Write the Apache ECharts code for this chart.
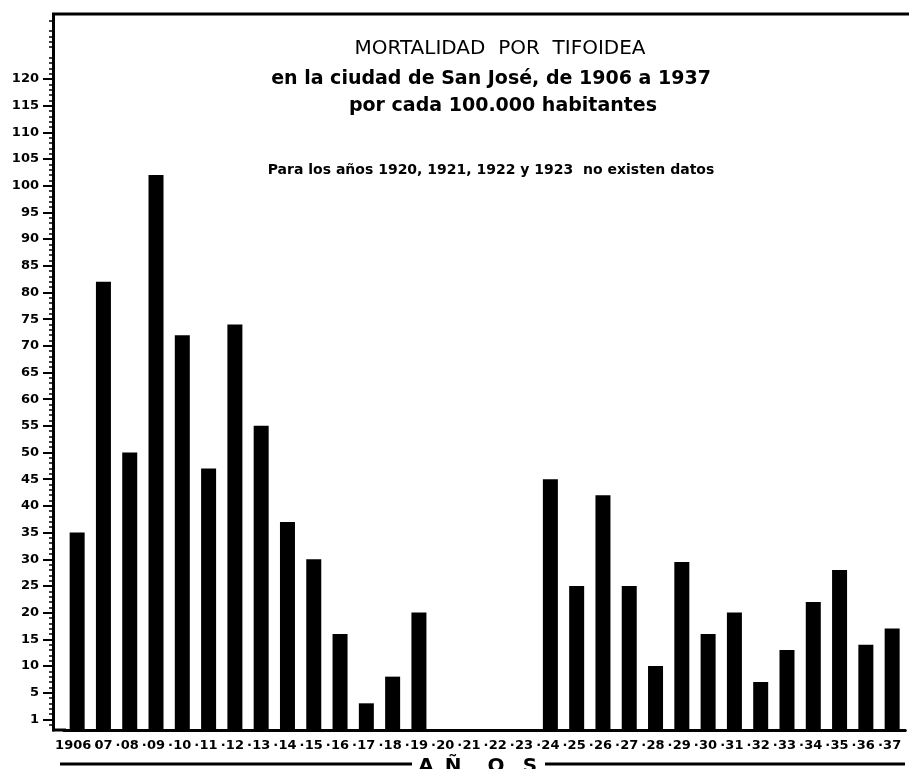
<!DOCTYPE html>
<html lang="es">
<head>
<meta charset="utf-8">
<title>Mortalidad por tifoidea</title>
<script src="https://cdn.jsdelivr.net/npm/echarts@6/dist/echarts.min.js"></script>
</head>
<body style="margin:0;background:#fff">
<div id="main" style="width:909px;height:769px"></div>
<script type="text/javascript">
// years shown on the x axis (1906 in full, the rest as two digits)
var years = ['1906', '07', '08', '09', '10', '11', '12', '13', '14', '15', '16', '17', '18', '19',
    '20', '21', '22', '23', '24', '25', '26', '27', '28', '29', '30', '31', '32', '33', '34', '35', '36', '37'];
// deaths per 100 000 inhabitants, no data for 1920-1923
var deaths = [35, 82, 50, 102, 72, 47, 74, 55, 37, 30, 16, 3, 8, 20,
    null, null, null, null, 45, 25, 42, 25, 10, 29.5, 16, 20, 7, 13, 22, 28, 14, 17];
// y axis: the bottom tick is labelled "1"
var yTicks = [0, 5, 10, 15, 20, 25, 30, 35, 40, 45, 50, 55, 60, 65, 70, 75, 80, 85, 90, 95, 100, 105, 110, 115, 120];
var yTickLabels = ['1', '5', '10', '15', '20', '25', '30', '35', '40', '45', '50', '55', '60', '65', '70', '75',
    '80', '85', '90', '95', '100', '105', '110', '115', '120'];

var FONT = '"DejaVu Sans", sans-serif';
var myChart = echarts.init(document.getElementById('main'));

myChart.setOption({
    backgroundColor: '#fff',
    animation: false,
    grid: { left: 64, right: -5, top: 15, bottom: 39 },
    xAxis: {
        type: 'category',
        data: years,
        axisLine: { onZero: false, lineStyle: { color: '#000', width: 3 } },
        axisTick: { show: false },
        axisLabel: {
            interval: 0,
            margin: 9,
            color: '#000',
            fontSize: 13,
            fontWeight: 'bold',
            fontFamily: FONT,
            formatter: function (v, i) {
                // a dot between consecutive years, like the hand-drawn axis
                if (i === 0) return v + '{d|·}';
                var last = i === years.length - 1;
                return '{h|·}' + v + (last ? '{h|·}' : '{d|·}');
            },
            rich: {
                d: { color: '#000', fontSize: 13, fontWeight: 'bold', fontFamily: FONT, padding: [0, 0, 0, 3] },
                h: { color: 'rgba(0,0,0,0)', fontSize: 13, fontWeight: 'bold', fontFamily: FONT, padding: [0, 3, 0, 0] }
            }
        }
    },
    yAxis: {
        type: 'value',
        min: -2,
        max: 132,
        splitNumber: 27,
        startValue: -2,
        offset: 11,
        splitLine: { show: false },
        axisLine: { show: true, lineStyle: { color: '#000', width: 3 } },
        axisTick: { show: true, length: 10, customValues: yTicks, lineStyle: { color: '#000', width: 2 } },
        minorTick: { show: true, splitNumber: 5, length: 4, lineStyle: { color: '#000', width: 1.5 } },
        axisLabel: {
            customValues: yTicks,
            margin: 14,
            color: '#000',
            fontSize: 13,
            fontWeight: 'bold',
            fontFamily: FONT,
            formatter: function (v) {
                var k = yTicks.indexOf(v);
                return k < 0 ? '' : yTickLabels[k];
            }
        }
    },
    series: [{
        type: 'bar',
        data: deaths,
        barWidth: 15,
        itemStyle: { color: '#000' }
    }],
    graphic: [
        { type: 'line', shape: { x1: 52, y1: 14, x2: 909, y2: 14 }, style: { stroke: '#000', lineWidth: 3 } },
        { type: 'line', shape: { x1: 52, y1: 730, x2: 66, y2: 730 }, style: { stroke: '#000', lineWidth: 3 } },
        { type: 'line', shape: { x1: 60, y1: 764, x2: 412, y2: 764 }, style: { stroke: '#000', lineWidth: 3 } },
        { type: 'line', shape: { x1: 545, y1: 764, x2: 905, y2: 764 }, style: { stroke: '#000', lineWidth: 3 } },
        { type: 'text', x: 500, y: 49, style: { text: 'MORTALIDAD  POR  TIFOIDEA', align: 'center', verticalAlign: 'middle', fill: '#000', font: '20px ' + FONT } },
        { type: 'text', x: 491, y: 79, style: { text: 'en la ciudad de San José, de 1906 a 1937', align: 'center', verticalAlign: 'middle', fill: '#000', font: 'bold 19px ' + FONT } },
        { type: 'text', x: 503, y: 106, style: { text: 'por cada 100.000 habitantes', align: 'center', verticalAlign: 'middle', fill: '#000', font: 'bold 19px ' + FONT } },
        { type: 'text', x: 491, y: 170, style: { text: 'Para los años 1920, 1921, 1922 y 1923  no existen datos', align: 'center', verticalAlign: 'middle', fill: '#000', font: 'bold 14px ' + FONT } },
        { type: 'text', x: 426, y: 757, style: { text: 'A', align: 'center', verticalAlign: 'top', fill: '#000', font: 'bold 20px ' + FONT } },
        { type: 'text', x: 453, y: 757, style: { text: 'Ñ', align: 'center', verticalAlign: 'top', fill: '#000', font: 'bold 20px ' + FONT } },
        { type: 'text', x: 496, y: 757, style: { text: 'O', align: 'center', verticalAlign: 'top', fill: '#000', font: 'bold 20px ' + FONT } },
        { type: 'text', x: 530, y: 757, style: { text: 'S', align: 'center', verticalAlign: 'top', fill: '#000', font: 'bold 20px ' + FONT } }
    ]
});
</script>
</body>
</html>
